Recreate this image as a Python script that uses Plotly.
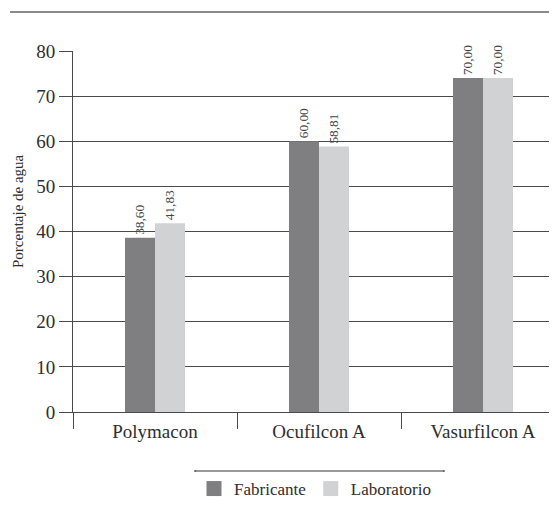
import plotly.graph_objects as go

categories = ["Polymacon", "Ocufilcon A", "Vasurfilcon A"]
fabricante = [38.60, 60.00, 74.0]
laboratorio = [41.83, 58.81, 74.0]
fabricante_labels = ["38,60", "60,00", "70,00"]
laboratorio_labels = ["41,83", "58,81", "70,00"]
y_ticks = [0, 10, 20, 30, 40, 50, 60, 70, 80]

FONT = "Liberation Serif"
DARK = "#7f7f81"
LIGHT = "#d1d2d4"
LINE = "#4a4a4a"
TXT = "#2e2e2e"

# page offset (body margin) compensation: plot area in figure px
L, T, B = 65, 43, 106
W, H = 557, 510
PW = W - L
PH = H - T - B


def px(xf):
    return (xf - L) / PW


def py(yf):
    return (H - B - yf) / PH


fig = go.Figure()
for name, vals, labels, color in [("Fabricante", fabricante, fabricante_labels, DARK),
                                  ("Laboratorio", laboratorio, laboratorio_labels, LIGHT)]:
    fig.add_trace(go.Bar(
        x=categories, y=vals, name=name, showlegend=False,
        marker=dict(color=color, line=dict(width=0)),
        text=labels, textposition="outside", textangle=-90,
        textfont=dict(family=FONT, size=15, color="#444"), cliponaxis=False,
    ))
for name, color in [("Fabricante", DARK), ("Laboratorio", LIGHT)]:
    fig.add_trace(go.Scatter(
        x=[None], y=[None], mode="markers", name=name,
        marker=dict(symbol="square", size=15, color=color, line=dict(width=0)),
    ))

fig.update_layout(
    width=W, height=H,
    margin=dict(l=L, r=0, t=T, b=B),
    paper_bgcolor="white", plot_bgcolor="white",
    barmode="group", bargap=0.634, bargroupgap=0,
    font=dict(family=FONT, color=TXT),
    showlegend=True,
    legend=dict(orientation="h", x=px(186), xanchor="left", y=py(481), yanchor="middle",
                font=dict(family=FONT, size=17, color=TXT), traceorder="normal",
                itemwidth=30, bgcolor="rgba(0,0,0,0)"),
)
fig.update_xaxes(
    type="category", range=[-0.5, 2.5],
    showline=True, linecolor=LINE, linewidth=1,
    ticks="outside", tickson="boundaries", ticklen=16, tickcolor=LINE, tickwidth=1,
    tickfont=dict(family=FONT, size=19, color=TXT), showgrid=False,
    ticklabelstandoff=2,
)
fig.update_yaxes(
    range=[0, 80], tickvals=y_ticks, ticktext=[str(v) for v in y_ticks],
    showline=True, linecolor=LINE, linewidth=1,
    ticks="outside", ticklen=13, tickcolor=LINE, tickwidth=1,
    showgrid=True, gridcolor=LINE, gridwidth=1, zeroline=False,
    tickfont=dict(family=FONT, size=19, color=TXT),
)
fig.add_annotation(
    text="Porcentaje de agua", textangle=-90, xref="paper", yref="paper",
    x=px(10), y=py(203), xanchor="center", yanchor="middle",
    showarrow=False, font=dict(family=FONT, size=15, color=TXT),
)
# decorative top rule and legend rule
fig.add_shape(type="line", xref="paper", yref="paper",
              x0=px(2), x1=1, y0=py(4), y1=py(4),
              line=dict(color="#8a8a8a", width=2))
fig.add_shape(type="line", xref="paper", yref="paper",
              x0=px(187), x1=px(436), y0=py(463), y1=py(463),
              line=dict(color="#333", width=1))
for xe in (187, 436):
    fig.add_shape(type="line", xref="paper", yref="paper",
                  x0=px(xe), x1=px(xe), y0=py(462), y1=py(464),
                  line=dict(color="#333", width=1))

fig.write_html("out.html")
